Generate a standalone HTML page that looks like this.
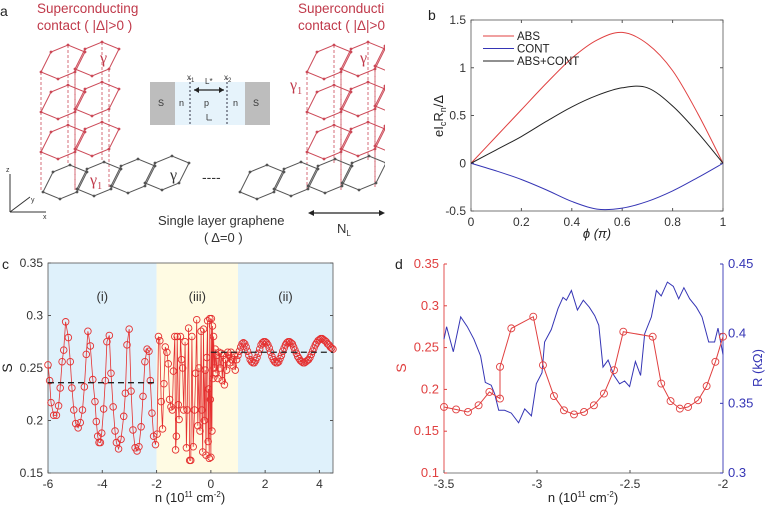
<!DOCTYPE html>
<html><head><meta charset="utf-8">
<style>
html,body{margin:0;padding:0;background:#fff;}
svg{display:block;font-family:"Liberation Sans",sans-serif;}
.tk{font-size:12px;fill:#333;}
</style></head>
<body>
<svg id="fig" width="770" height="507" viewBox="0 0 770 507" xmlns="http://www.w3.org/2000/svg">
<defs>
<clipPath id="clipA"><rect x="0" y="0" width="385" height="255"/></clipPath>
</defs>
<g id="panelA" clip-path="url(#clipA)">
<text x="0" y="16" font-size="14" fill="#222">a</text>
<text x="37" y="13" font-size="13.5" fill="#c0394a">Superconducting</text>
<text x="37" y="30" font-size="13.5" fill="#c0394a">contact ( |Δ|&gt;0 )</text>
<text x="298" y="13" font-size="13.5" fill="#c0394a">Superconducting</text>
<text x="298" y="30" font-size="13.5" fill="#c0394a">contact ( |Δ|&gt;0 )</text>
<g id="lattice"></g>
<rect x="150" y="82" width="25" height="43" fill="#bdbdbd"/>
<rect x="175" y="82" width="70" height="43" fill="#e6f3fb"/>
<rect x="245" y="82" width="25" height="43" fill="#bdbdbd"/>
<line x1="190" y1="78" x2="190" y2="125" stroke="#334" stroke-dasharray="2,2"/>
<line x1="227" y1="78" x2="227" y2="125" stroke="#334" stroke-dasharray="2,2"/>
<line x1="194" y1="90" x2="224" y2="90" stroke="#222" stroke-width="1.2"/>
<path d="M194,90 l5,-3 v6z M224,90 l-5,-3 v6z" fill="#222"/>
<text x="158" y="106" font-size="9" fill="#333">S</text>
<text x="253" y="106" font-size="9" fill="#333">S</text>
<text x="179" y="106" font-size="9" fill="#333">n</text>
<text x="233" y="106" font-size="9" fill="#333">n</text>
<text x="204" y="106" font-size="9" fill="#333">p</text>
<text x="187" y="80" font-size="8" fill="#333">x<tspan font-size="6" dy="2">1</tspan></text>
<text x="224" y="80" font-size="8" fill="#333">x<tspan font-size="6" dy="2">2</tspan></text>
<text x="205" y="84" font-size="8" fill="#333">L*</text>
<path d="M207,120 v-6 M207,120 h5" stroke="#333" stroke-width="0.8" fill="none"/>
<path d="M10,212 h36 M10,212 l20,-15 M10,212 v-38" stroke="#333" stroke-width="1" fill="none"/>
<text x="6" y="172" font-size="7" fill="#333">z</text><text x="31" y="202" font-size="7" fill="#333">y</text><text x="43" y="219" font-size="7" fill="#333">x</text>
<text x="100" y="63" font-size="16" fill="#c0394a" font-family="Liberation Serif,serif">γ</text>
<text x="90" y="185" font-size="16" fill="#c0394a" font-family="Liberation Serif,serif">γ<tspan font-size="10" dy="4">1</tspan></text>
<text x="170" y="180" font-size="16" fill="#333" font-family="Liberation Serif,serif">γ</text>
<text x="360" y="63" font-size="16" fill="#c0394a" font-family="Liberation Serif,serif">γ</text>
<text x="290" y="90" font-size="16" fill="#c0394a" font-family="Liberation Serif,serif">γ<tspan font-size="10" dy="4">1</tspan></text>
<text x="202" y="182" font-size="14" fill="#333">----</text>
<text x="158" y="225" font-size="13" fill="#333">Single layer graphene</text>
<text x="204" y="242" font-size="13" fill="#333">( Δ=0 )</text>
<line x1="310" y1="213" x2="383" y2="213" stroke="#222" stroke-width="1.2"/>
<path d="M308,213 l6,-3 v6z M385,213 l-6,-3 v6z" fill="#222"/>
<text x="337" y="233" font-size="13" fill="#333">N<tspan font-size="8" dy="3">L</tspan></text>
</g>
<text x="428" y="20" font-size="14" fill="#222">b</text>
<text x="2" y="269" font-size="14" fill="#222">c</text>
<text x="395" y="269" font-size="14" fill="#222">d</text>
<g id="panelB"></g>
<g id="panelC"></g>
<g id="panelD"></g>
</svg>
<script>
// ---- Panel b data ----
const bPhi = [0,0.1,0.2,0.3,0.4,0.5,0.6,0.7,0.8,0.9,1.0];
const bABS = [0,0.28,0.56,0.84,1.1,1.29,1.37,1.25,0.97,0.52,0];
const bCONT = [0,-0.08,-0.17,-0.28,-0.4,-0.48,-0.47,-0.4,-0.29,-0.15,0];
const bSUM = [0,0.14,0.28,0.44,0.59,0.71,0.79,0.79,0.6,0.32,0];
const bXTicks = [0,0.2,0.4,0.6,0.8,1];
const bYTicks = [-0.5,0,0.5,1,1.5];
const bYTickLabels = ["-0.5","0","0.5","1","1.5"];
// ---- Panel c data ----
const cN = [-6.00,-5.94,-5.89,-5.79,-5.69,-5.61,-5.55,-5.48,-5.42,-5.35,-5.25,-5.18,-5.12,-5.05,-4.98,-4.89,-4.81,-4.73,-4.66,-4.59,-4.53,-4.44,-4.35,-4.27,-4.22,-4.17,-4.12,-4.07,-4.02,-3.95,-3.89,-3.83,-3.74,-3.68,-3.60,-3.53,-3.48,-3.40,-3.31,-3.21,-3.15,-3.09,-3.01,-2.94,-2.87,-2.79,-2.72,-2.65,-2.57,-2.50,-2.43,-2.35,-2.28,-2.23,-2.17,-2.11,-2.04,-1.98,
-1.93,-1.88,-1.83,-1.78,-1.73,-1.68,-1.62,-1.57,-1.52,-1.47,-1.42,-1.38,-1.33,-1.30,-1.27,-1.24,-1.20,-1.17,-1.12,-1.08,-1.04,-1.00,-0.95,-0.90,-0.87,-0.82,-0.78,-0.74,-0.70,-0.65,-0.60,-0.56,-0.52,-0.48,-0.44,-0.40,-0.36,-0.33,-0.30,-0.27,-0.24,-0.21,-0.18,-0.15,-0.12,-0.10,-0.08,-0.06,-0.04,-0.02,0,0.02,0.04,0.06,0.08,0.10,0.13,0.16,0.19,0.22,0.26,0.30,0.34,0.38,0.42,0.46,0.50,0.54,0.58,0.62,0.66,0.70,0.74,0.78,0.82,0.86,0.90,0.95,
1.00,1.05,1.10,1.15,1.20,1.25,1.30,1.35,1.40,1.45,1.50,1.55,1.60,1.65,1.70,1.75,1.80,1.85,1.90,1.95,2.00,2.05,2.10,2.15,2.20,2.25,2.30,2.35,2.40,2.45,2.50,2.55,2.60,2.65,2.70,2.75,2.80,2.85,2.90,2.95,3.00,3.05,3.10,3.15,3.20,3.25,3.30,3.35,3.40,3.45,3.50,3.55,3.60,3.65,3.70,3.75,3.80,3.85,3.90,3.95,4.00,4.05,4.10,4.15,4.20,4.25,4.30,4.35,4.40,4.45,4.50];
const cS = [0.253,0.238,0.217,0.205,0.205,0.214,0.231,0.256,0.267,0.294,0.279,0.256,0.231,0.210,0.197,0.193,0.198,0.210,0.232,0.263,0.285,0.271,0.239,0.218,0.199,0.185,0.179,0.179,0.188,0.211,0.238,0.275,0.281,0.245,0.213,0.190,0.179,0.173,0.182,0.204,0.226,0.272,0.287,0.228,0.191,0.174,0.171,0.175,0.194,0.223,0.256,0.268,0.266,0.238,0.207,0.185,0.177,0.187,
0.280,0.276,0.218,0.192,0.235,0.270,0.265,0.254,0.220,0.213,0.210,0.247,0.280,0.172,0.185,0.280,0.215,0.201,0.280,0.258,0.250,0.210,0.275,0.174,0.210,0.288,0.162,0.162,0.280,0.175,0.210,0.245,0.296,0.195,0.250,0.190,0.285,0.210,0.170,0.287,0.200,0.248,0.167,0.260,0.295,0.180,0.230,0.164,0.297,0.220,0.165,0.297,0.190,0.290,0.240,0.280,0.250,0.268,0.245,0.262,0.240,0.265,0.250,0.264,0.238,0.262,0.234,0.258,0.248,0.265,0.262,0.255,0.265,0.258,0.252,0.262,0.248,0.258,
0.262,0.266,0.270,0.273,0.274,0.273,0.270,0.266,0.262,0.258,0.256,0.255,0.255,0.257,0.260,0.264,0.268,0.272,0.274,0.275,0.275,0.274,0.272,0.269,0.265,0.261,0.258,0.256,0.255,0.255,0.256,0.259,0.262,0.266,0.269,0.272,0.274,0.275,0.275,0.274,0.273,0.270,0.267,0.264,0.261,0.259,0.257,0.256,0.255,0.255,0.256,0.257,0.258,0.260,0.263,0.266,0.269,0.272,0.274,0.276,0.277,0.278,0.278,0.277,0.276,0.275,0.273,0.272,0.270,0.269,0.268];
const cMeanLeft = 0.236;
const cMeanRight = 0.265;
const cXTicks = [-6,-4,-2,0,2,4];
const cYTicks = [0.15,0.2,0.25,0.3,0.35];
const cYTickLabels = ["0.15","0.2","0.25","0.3","0.35"];
const cRegions = [-6,-2,1,4.5];
const cRegionNames = ["(i)","(iii)","(ii)"];
// ---- Panel d data ----
const dSN = [-3.5,-3.435,-3.371,-3.314,-3.256,-3.199,-3.199,-3.138,-3.02,-2.968,-2.909,-2.855,-2.801,-2.747,-2.694,-2.640,-2.586,-2.536,-2.378,-2.332,-2.282,-2.232,-2.188,-2.134,-2.088,-2.041,-2.0];
const dS = [0.179,0.176,0.173,0.181,0.197,0.189,0.227,0.273,0.287,0.229,0.192,0.175,0.170,0.173,0.181,0.195,0.223,0.269,0.263,0.207,0.186,0.177,0.179,0.187,0.204,0.233,0.263];
const dRN = [-3.5,-3.486,-3.45,-3.41,-3.375,-3.339,-3.303,-3.278,-3.246,-3.228,-3.206,-3.174,-3.138,-3.099,-3.066,-3.030,-3.004,-2.973,-2.959,-2.923,-2.887,-2.860,-2.842,-2.815,-2.783,-2.751,-2.719,-2.690,-2.668,-2.645,-2.618,-2.586,-2.556,-2.529,-2.502,-2.471,-2.443,-2.421,-2.385,-2.358,-2.332,-2.299,-2.267,-2.238,-2.210,-2.179,-2.143,-2.113,-2.077,-2.045,-2.027,-2.0];
const dR = [0.396,0.405,0.387,0.412,0.405,0.396,0.384,0.365,0.363,0.357,0.345,0.345,0.343,0.336,0.346,0.341,0.364,0.372,0.394,0.403,0.418,0.426,0.424,0.431,0.417,0.424,0.419,0.413,0.406,0.376,0.381,0.370,0.364,0.366,0.362,0.380,0.370,0.400,0.412,0.431,0.427,0.437,0.434,0.425,0.433,0.425,0.419,0.412,0.394,0.394,0.404,0.385];
const dXTicks = [-3.5,-3,-2.5,-2];
const dLTicks = [0.1,0.15,0.2,0.25,0.3,0.35];
const dLTickLabels = ["0.1","0.15","0.2","0.25","0.3","0.35"];
const dRTicks = [0.3,0.35,0.4,0.45];
const dRTickLabels = ["0.3","0.35","0.4","0.45"];

const NS = "http://www.w3.org/2000/svg";
function mk(parent, tag, attrs, txt){
  const e = document.createElementNS(NS, tag);
  for (const k in attrs) e.setAttribute(k, attrs[k]);
  if (txt !== undefined) e.textContent = txt;
  parent.appendChild(e);
  return e;
}
function scale(d0,d1,p0,p1){ return v => p0 + (v-d0)/(d1-d0)*(p1-p0); }
function smoothPath(xs, ys){
  let d = "M"+xs[0].toFixed(2)+","+ys[0].toFixed(2);
  for (let i=0;i<xs.length-1;i++){
    const i0=Math.max(0,i-1), i3=Math.min(xs.length-1,i+2);
    const c1x=xs[i]+(xs[i+1]-xs[i0])/6, c1y=ys[i]+(ys[i+1]-ys[i0])/6;
    const c2x=xs[i+1]-(xs[i3]-xs[i])/6, c2y=ys[i+1]-(ys[i3]-ys[i])/6;
    d += " C"+c1x.toFixed(2)+","+c1y.toFixed(2)+" "+c2x.toFixed(2)+","+c2y.toFixed(2)+" "+xs[i+1].toFixed(2)+","+ys[i+1].toFixed(2);
  }
  return d;
}
function box(g, x0, y0, x1, y1){
  const r = mk(g,"rect",{x:x0,y:y0,width:x1-x0,height:y1-y0,fill:"none",stroke:"#555","stroke-width":0.8});
  
  
}

// ---- Panel a lattice ----
(function(){
  const g = document.getElementById("lattice");
  const hex = [[0,0],[10,-20],[27,-27],[44,-20],[34,0],[17,7]];
  function drawHex(bx, by, col){
    const pts = hex.map(p=>(bx+p[0])+","+(by+p[1])).join(" ");
    const h = mk(g,"polygon",{points:pts,fill:"none",stroke:col,"stroke-width":1});
    
    
    hex.forEach(p=>mk(g,"circle",{cx:bx+p[0],cy:by+p[1],r:1.4,fill:col}));
  }
  const gray="#555", red="#cc4a58";
  const stacks=[[41,2],[307,3]];
  stacks.forEach(s=>{
    const bx=s[0];
    for(let k=0;k<s[1];k++) [0,2,4].forEach(j=>{
      const p=hex[j];
      const x=bx+34*k+p[0];
      mk(g,"line",{x1:x,y1:72+p[1]-3*k,x2:x,y2:190+p[1]-3*k,stroke:red,"stroke-width":0.8,"stroke-dasharray":"3,2"});
    });
  });
  for (let k=0;k<4;k++) drawHex(43+34*k, 192-3*k, gray);
  for (let k=0;k<4;k++) drawHex(240+34*k, 192-3*k, gray);
  stacks.forEach(s=>{
    [72,112,152].forEach(by=>{ for(let k=0;k<s[1];k++) drawHex(s[0]+34*k, by-3*k, red); });
  });
})();

// ---- Panel b ----
(function(){
  const g = document.getElementById("panelB");
  const X0=471,X1=723,Y0=20,Y1=211;
  const sx=scale(0,1,X0,X1), sy=scale(-0.5,1.5,Y1,Y0);
  box(g,X0,Y0,X1,Y1);
  bXTicks.forEach(v=>{
    mk(g,"line",{x1:sx(v),y1:Y1,x2:sx(v),y2:Y1-3,stroke:"#555"});
    mk(g,"line",{x1:sx(v),y1:Y0,x2:sx(v),y2:Y0+3,stroke:"#555"});
    const t=mk(g,"text",{x:sx(v),y:Y1+15,"text-anchor":"middle",class:"tk"},String(v));
    
    
  });
  bYTicks.forEach((v,i)=>{
    mk(g,"line",{x1:X0,y1:sy(v),x2:X0+3,y2:sy(v),stroke:"#555"});
    mk(g,"line",{x1:X1,y1:sy(v),x2:X1-3,y2:sy(v),stroke:"#555"});
    const t=mk(g,"text",{x:X0-5,y:sy(v)+4,"text-anchor":"end",class:"tk"},bYTickLabels[i]);
    
    
  });
  const series=[[bABS,"#e04040","abs-line"],[bCONT,"#3535b5","cont-line"],[bSUM,"#222","abs-cont-line"]];
  series.forEach(s=>{
    const p=mk(g,"path",{d:smoothPath(bPhi.map(sx),s[0].map(sy)),fill:"none",stroke:s[1],"stroke-width":1});
    
    
  });
  const leg=[["ABS","#e04040"],["CONT","#3535b5"],["ABS+CONT","#222"]];
  leg.forEach((l,i)=>{
    const y=36+i*12.5;
    mk(g,"line",{x1:483,y1:y,x2:514,y2:y,stroke:l[1],"stroke-width":1});
    const t=mk(g,"text",{x:517,y:y+4,"font-size":"11.5",fill:"#222"},l[0]);
    
    
  });
  const xl=mk(g,"text",{x:597,y:238,"text-anchor":"middle","font-size":"13",fill:"#222","font-style":"italic"},"ϕ (π)");
  
  
  const yl=mk(g,"text",{x:0,y:0,"text-anchor":"middle","font-size":"13",fill:"#222",transform:"translate(443,116) rotate(-90)"});
  yl.innerHTML='eI<tspan font-size="9" dy="3">c</tspan><tspan dy="-3">R</tspan><tspan font-size="9" dy="3">n</tspan><tspan dy="-3">/Δ</tspan>';
  
  
})();

// ---- Panel c ----
(function(){
  const g = document.getElementById("panelC");
  const X0=48,X1=333,Y0=263,Y1=473;
  const sx=scale(-6,4.5,X0,X1), sy=scale(0.15,0.35,Y1,Y0);
  const fills=["#dff1fb","#fffbe3","#dff1fb"];
  for(let i=0;i<3;i++){
    const r=mk(g,"rect",{x:sx(cRegions[i]),y:Y0,width:sx(cRegions[i+1])-sx(cRegions[i]),height:Y1-Y0,fill:fills[i]});
    
    
    const t=mk(g,"text",{x:(sx(cRegions[i])+sx(cRegions[i+1]))/2,y:301,"text-anchor":"middle","font-size":"13",fill:"#333"},cRegionNames[i]);
    
    
  }
  box(g,X0,Y0,X1,Y1);
  cXTicks.forEach(v=>{
    mk(g,"line",{x1:sx(v),y1:Y1,x2:sx(v),y2:Y1-3,stroke:"#555"});
    const t=mk(g,"text",{x:sx(v),y:Y1+15,"text-anchor":"middle",class:"tk"},String(v));
    
    
  });
  cYTicks.forEach((v,i)=>{
    mk(g,"line",{x1:X0,y1:sy(v),x2:X0+3,y2:sy(v),stroke:"#555"});
    mk(g,"line",{x1:X1,y1:sy(v),x2:X1-3,y2:sy(v),stroke:"#555"});
    const t=mk(g,"text",{x:X0-5,y:sy(v)+4,"text-anchor":"end",class:"tk","font-size":"13"},cYTickLabels[i]);
    
    
  });
  const pts=cN.map((n,i)=>sx(n).toFixed(1)+","+sy(cS[i]).toFixed(1)).join(" ");
  const pl=mk(g,"polyline",{points:pts,fill:"none",stroke:"#e53030","stroke-width":0.8});
  
  
  cN.forEach((n,i)=>{
    const c=mk(g,"circle",{cx:sx(n),cy:sy(cS[i]),r:3.3,fill:"none",stroke:"#e53030","stroke-width":0.9});
    
    
  });
  const m1=mk(g,"line",{x1:sx(-6),y1:sy(cMeanLeft),x2:sx(-2),y2:sy(cMeanLeft),stroke:"#222","stroke-width":1.3,"stroke-dasharray":"6,4"});
  
  
  const m2=mk(g,"line",{x1:sx(0),y1:sy(cMeanRight),x2:sx(4.5),y2:sy(cMeanRight),stroke:"#222","stroke-width":1.3,"stroke-dasharray":"6,4"});
  
  
  const xl=mk(g,"text",{x:190,y:502,"text-anchor":"middle","font-size":"13",fill:"#222"});
  xl.innerHTML='n (10<tspan font-size="8" dy="-5">11</tspan><tspan dy="5"> cm</tspan><tspan font-size="8" dy="-5">-2</tspan><tspan dy="5">)</tspan>';
  
  
  const yl=mk(g,"text",{x:0,y:0,"text-anchor":"middle","font-size":"14",fill:"#222",transform:"translate(12,368) rotate(-90)"},"S");
  
  
})();

// ---- Panel d ----
(function(){
  const g = document.getElementById("panelD");
  const X0=444,X1=723,Y0=264,Y1=473;
  const sx=scale(-3.5,-2,X0,X1), syL=scale(0.1,0.35,Y1,Y0), syR=scale(0.3,0.45,Y1,Y0);
  mk(g,"line",{x1:X0,y1:Y1,x2:X1,y2:Y1,stroke:"#555","stroke-width":0.8});
  mk(g,"line",{x1:X0,y1:Y0,x2:X0,y2:Y1,stroke:"#e04040","stroke-width":0.9});
  mk(g,"line",{x1:X1,y1:Y0,x2:X1,y2:Y1,stroke:"#3535b5","stroke-width":0.9});
  dXTicks.forEach(v=>{
    mk(g,"line",{x1:sx(v),y1:Y1,x2:sx(v),y2:Y1-3,stroke:"#555"});
    const t=mk(g,"text",{x:sx(v),y:Y1+15,"text-anchor":"middle",class:"tk"},String(v));
    
    
  });
  dLTicks.forEach((v,i)=>{
    mk(g,"line",{x1:X0,y1:syL(v),x2:X0+3,y2:syL(v),stroke:"#e04040"});
    const t=mk(g,"text",{x:X0-5,y:syL(v)+4,"text-anchor":"end","font-size":"13",fill:"#e04040"},dLTickLabels[i]);
    
    
  });
  dRTicks.forEach((v,i)=>{
    mk(g,"line",{x1:X1,y1:syR(v),x2:X1-3,y2:syR(v),stroke:"#3535b5"});
    const t=mk(g,"text",{x:X1+5,y:syR(v)+4,"text-anchor":"start","font-size":"13",fill:"#3535b5"},dRTickLabels[i]);
    
    
  });
  const rl=mk(g,"polyline",{points:dRN.map((n,i)=>sx(n).toFixed(1)+","+syR(dR[i]).toFixed(1)).join(" "),fill:"none",stroke:"#3535b5","stroke-width":1});
  
  
  const sl=mk(g,"polyline",{points:dSN.map((n,i)=>sx(n).toFixed(1)+","+syL(dS[i]).toFixed(1)).join(" "),fill:"none",stroke:"#e04040","stroke-width":1});
  
  
  dSN.forEach((n,i)=>{
    const c=mk(g,"circle",{cx:sx(n),cy:syL(dS[i]),r:3.5,fill:"none",stroke:"#e04040","stroke-width":0.9});
    
    
  });
  const xl=mk(g,"text",{x:583,y:502,"text-anchor":"middle","font-size":"13",fill:"#222"});
  xl.innerHTML='n (10<tspan font-size="8" dy="-5">11</tspan><tspan dy="5"> cm</tspan><tspan font-size="8" dy="-5">-2</tspan><tspan dy="5">)</tspan>';
  
  
  const yl=mk(g,"text",{x:0,y:0,"text-anchor":"middle","font-size":"14",fill:"#e04040",transform:"translate(406,368) rotate(-90)"},"S");
  
  
  const yr=mk(g,"text",{x:0,y:0,"text-anchor":"middle","font-size":"13",fill:"#3535b5",transform:"translate(762,368) rotate(-90)"},"R (kΩ)");
  
  
})();
</script>
</body></html>
